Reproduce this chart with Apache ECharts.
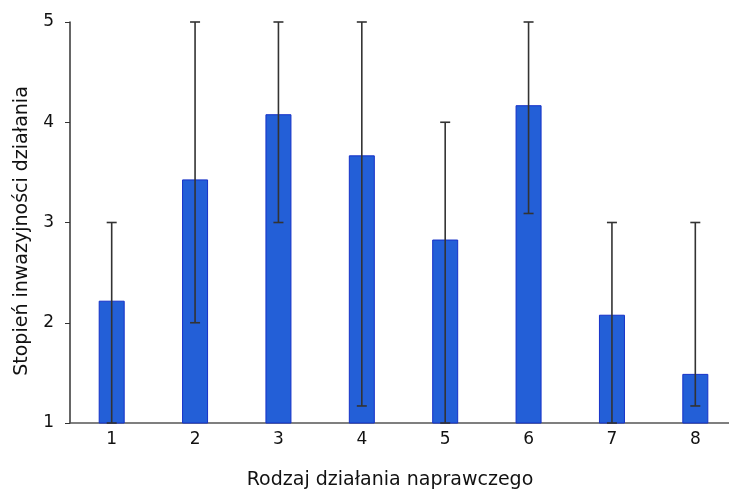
<!DOCTYPE html>
<html><head><meta charset="utf-8">
<script src="https://cdn.jsdelivr.net/npm/echarts@6/dist/echarts.min.js"></script>
<style>html,body{margin:0;padding:0;background:#fff}#c{width:729px;height:489px}</style>
</head><body><div id="c"></div>
<script>
var categories = ['1','2','3','4','5','6','7','8'];
var means = [2.22, 3.43, 4.08, 3.67, 2.83, 4.17, 2.08, 1.49];
var lows  = [1, 2, 3, 1.17, 1, 3.09, 1, 1.17];
var highs = [3, 5, 5, 5, 4, 5, 3, 3];
var yTicks = [1, 2, 3, 4, 5];

var errData = categories.map(function(c, i){ return [i, lows[i], highs[i]]; });
var chart = echarts.init(document.getElementById('c'));
chart.setOption({
  animation: false,
  grid: {left: 70, top: 22, right: -8, bottom: 66, outerBoundsMode: 'none', containLabel: false},
  xAxis: {
    type: 'category', data: categories,
    name: 'Rodzaj działania naprawczego', nameLocation: 'middle', nameGap: 48,
    nameTextStyle: {fontFamily: 'DejaVu Sans', fontSize: 19, color: '#111', padding: [0, 27, 0, 0]},
    axisLine: {lineStyle: {color: '#555', width: 1.5}},
    axisTick: {show: false},
    axisLabel: {fontFamily: 'DejaVu Sans', fontSize: 17, color: '#111', margin: 8}
  },
  yAxis: {
    type: 'value', min: 1, max: 5, interval: 1,
    name: 'Stopień inwazyjności działania', nameLocation: 'middle', nameGap: 38,
    nameTextStyle: {fontFamily: 'DejaVu Sans', fontSize: 19, color: '#111', padding: [0, 17, 0, 0]},
    axisLine: {show: true, lineStyle: {color: '#333', width: 1.5}},
    axisTick: {show: true, length: 5, lineStyle: {color: '#333'}},
    splitLine: {show: false},
    axisLabel: {fontFamily: 'DejaVu Sans', fontSize: 17, color: '#111', margin: 16,
      formatter: function(v){ return yTicks.indexOf(v) >= 0 ? String(v) : ''; }}
  },
  series: [{
    type: 'bar', data: means, barWidth: 26,
    itemStyle: {color: '#235fd7', borderColor: '#1530c8', borderWidth: 1}
  }, {
    type: 'custom', data: errData, z: 5,
    renderItem: function(params, api){
      var x = api.value(0);
      var lo = api.coord([x, api.value(1)]);
      var hi = api.coord([x, api.value(2)]);
      var hw = 5;
      var st = {stroke: '#333', lineWidth: 1.6};
      return {type: 'group', children: [
        {type: 'line', shape: {x1: lo[0], y1: lo[1], x2: hi[0], y2: hi[1]}, style: st},
        {type: 'line', shape: {x1: lo[0]-hw, y1: lo[1], x2: lo[0]+hw, y2: lo[1]}, style: st},
        {type: 'line', shape: {x1: hi[0]-hw, y1: hi[1], x2: hi[0]+hw, y2: hi[1]}, style: st}
      ]};
    }
  }]
});
</script></body></html>
